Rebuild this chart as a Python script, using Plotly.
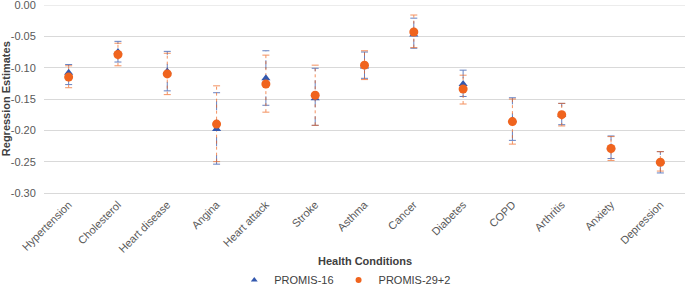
import plotly.graph_objects as go

categories = ["Hypertension", "Cholesterol", "Heart disease", "Angina", "Heart attack", "Stroke",
              "Asthma", "Cancer", "Diabetes", "COPD", "Arthritis", "Anxiety", "Depression"]

p16 = [-0.108, -0.075, -0.106, -0.198, -0.117, -0.149, -0.098, -0.047, -0.126, -0.184, -0.175, -0.227, -0.250]
p16_lo = [-0.127, -0.091, -0.137, -0.254, -0.160, -0.192, -0.117, -0.069, -0.146, -0.216, -0.191, -0.245, -0.268]
p16_hi = [-0.095, -0.058, -0.074, -0.140, -0.073, -0.101, -0.075, -0.021, -0.104, -0.148, -0.157, -0.209, -0.234]

p29 = [-0.115, -0.079, -0.110, -0.190, -0.126, -0.144, -0.096, -0.043, -0.134, -0.186, -0.175, -0.229, -0.251]
p29_lo = [-0.132, -0.097, -0.143, -0.250, -0.171, -0.192, -0.119, -0.068, -0.158, -0.222, -0.193, -0.248, -0.265]
p29_hi = [-0.097, -0.061, -0.077, -0.129, -0.080, -0.096, -0.073, -0.016, -0.112, -0.150, -0.157, -0.210, -0.234]

y_ticks = [0.0, -0.05, -0.10, -0.15, -0.20, -0.25, -0.30]
y_labels = ["0.00", "-0.05", "-0.10", "-0.15", "-0.20", "-0.25", "-0.30"]

BLUE = "#3358AE"
ORANGE = "#F0641E"
FONT = "Arial, Liberation Sans, sans-serif"


def seg(cats, lo, hi):
    xs, ys = [], []
    for c, a, b in zip(cats, lo, hi):
        xs += [c, c, None]
        ys += [a, b, None]
    return xs, ys


fig = go.Figure()

xs, ys = seg(categories, p16_lo, p16_hi)
fig.add_trace(go.Scatter(x=xs, y=ys, mode="lines+markers", showlegend=False, hoverinfo="skip",
                         line=dict(color=BLUE, width=1, dash="dash"), opacity=0.75,
                         marker=dict(symbol="line-ew", size=5, line=dict(color=BLUE, width=1))))
xs, ys = seg(categories, p29_lo, p29_hi)
fig.add_trace(go.Scatter(x=xs, y=ys, mode="lines+markers", showlegend=False, hoverinfo="skip",
                         line=dict(color=ORANGE, width=1, dash="dot"), opacity=0.7,
                         marker=dict(symbol="line-ew", size=5, line=dict(color=ORANGE, width=1))))

fig.add_trace(go.Scatter(x=categories, y=p16, mode="markers", name="PROMIS-16", showlegend=False,
                         marker=dict(symbol="triangle-up", size=8, color=BLUE)))
fig.add_trace(go.Scatter(x=categories, y=p29, mode="markers", name="PROMIS-29+2", showlegend=False,
                         marker=dict(symbol="circle", size=9, color=ORANGE)))

# legend entries with small symbols
fig.add_trace(go.Scatter(x=[None], y=[None], mode="markers", name="PROMIS-16",
                         marker=dict(symbol="triangle-up", size=6, color=BLUE)))
fig.add_trace(go.Scatter(x=[None], y=[None], mode="markers", name="PROMIS-29+2",
                         marker=dict(symbol="circle", size=6, color=ORANGE)))

# top gridline at 0.00
fig.add_hline(y=0, line=dict(color="#d9d9d9", width=1), layer="below")

fig.update_layout(
    width=685, height=286,
    margin=dict(l=44, r=0, t=5, b=93, autoexpand=False),
    paper_bgcolor="white", plot_bgcolor="white",
    font=dict(family=FONT, size=11, color="#595959"),
    legend=dict(orientation="h", x=0.47, xanchor="center", y=-0.385, yanchor="top",
                font=dict(size=11, color="#404040"), itemwidth=30, tracegroupgap=0,
                itemsizing="trace"),
    xaxis=dict(type="category", tickangle=-45, showgrid=False, zeroline=False,
               showline=True, linecolor="#d9d9d9", ticks="", automargin=False,
               tickfont=dict(size=11, color="#595959"),
               range=[-0.5, len(categories) - 0.5]),
    yaxis=dict(range=[-0.30, 0.0], tickvals=y_ticks, ticktext=y_labels,
               showgrid=True, gridcolor="#d9d9d9", gridwidth=1, zeroline=False,
               showline=False, ticks="outside", ticklen=5, tickcolor="rgba(0,0,0,0)",
               automargin=False, ticklabeloverflow="allow",
               tickfont=dict(size=11, color="#595959")),
    annotations=[
        dict(text="<b>Health Conditions</b>", xref="paper", yref="paper",
             x=0.5, y=-0.362, xanchor="center", yanchor="middle", showarrow=False,
             font=dict(size=11, color="#404040")),
        dict(text="<b>Regression Estimates</b>", xref="paper", yref="paper",
             x=-0.059, y=0.5, xanchor="center", yanchor="middle", textangle=-90,
             showarrow=False, font=dict(size=11, color="#404040")),
    ],
)

fig.write_html("out.html", config={"displayModeBar": False},
               post_script="document.body.style.margin='0';")
